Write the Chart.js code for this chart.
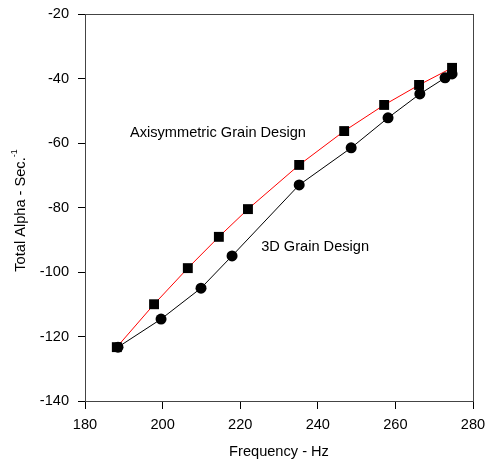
<!DOCTYPE html>
<html>
<head>
<meta charset="utf-8">
<script src="https://cdn.jsdelivr.net/npm/chart.js@4"></script>
<style>
  html, body { margin: 0; padding: 0; background: #fff; }
  #wrap { width: 489px; height: 461px; }
</style>
</head>
<body>
<div id="wrap"><canvas id="alphaChart" width="489" height="461"></canvas></div>
<script>
// Axisymmetric grain design (squares, red line)
var axiFreq  = [188.2, 197.8, 206.5, 214.5, 222.0, 235.2, 246.8, 257.1, 266.1, 274.6];
var axiAlpha = [-123.3, -110.0, -98.8, -89.1, -80.5, -66.8, -56.3, -48.2, -42.0, -36.7];

// 3D grain design (circles, black line)
var d3Freq  = [188.5, 199.6, 209.9, 217.9, 235.2, 248.6, 258.1, 266.3, 272.8, 274.6];
var d3Alpha = [-123.3, -114.6, -105.0, -95.0, -73.0, -61.5, -52.2, -44.8, -39.8, -38.6];

var xTicks = [180, 200, 220, 240, 260, 280];
var yTicks = [-140, -120, -100, -80, -60, -40, -20];

function toPoints(xs, ys) {
    return xs.map(function (x, i) { return { x: x, y: ys[i] }; });
}

var FONT = 'Liberation Sans, Arial, sans-serif';
var FS = 14.6;

// frame around plot + in-plot labels
var decorations = {
    id: 'decorations',
    afterDraw: function (chart) {
        var c = chart.ctx, a = chart.chartArea;
        var xs = chart.scales.x, ys = chart.scales.y;
        c.save();
        c.strokeStyle = '#444';
        c.lineWidth = 1;
        c.strokeRect(Math.round(a.left) + 0.5, Math.round(a.top) + 0.5,
                     Math.round(a.right - a.left), Math.round(a.bottom - a.top));
        c.fillStyle = '#000';
        c.font = FS + 'px ' + FONT;
        c.textBaseline = 'middle';
        c.textAlign = 'left';
        c.fillText('Axisymmetric Grain Design', xs.getPixelForValue(191.6), ys.getPixelForValue(-56.9));
        c.fillText('3D Grain Design', xs.getPixelForValue(225.4), ys.getPixelForValue(-92.2));

        // y axis title with superscript
        c.translate(21, (a.top + a.bottom) / 2 + 3);
        c.rotate(-Math.PI / 2);
        var main = 'Total Alpha - Sec.';
        c.font = FS + 'px ' + FONT;
        var w1 = c.measureText(main).width;
        c.font = '9px ' + FONT;
        var w2 = c.measureText('-1').width;
        var start = -(w1 + w2) / 2;
        c.font = FS + 'px ' + FONT;
        c.fillText(main, start, 0);
        c.font = '9px ' + FONT;
        c.fillText('-1', start + w1, -6);
        c.restore();
    }
};

var ctx = document.getElementById('alphaChart').getContext('2d');
var chart = new Chart(ctx, {
    type: 'scatter',
    data: {
        datasets: [{
            label: 'Axisymmetric Grain Design',
            data: toPoints(axiFreq, axiAlpha),
            showLine: true,
            borderColor: '#ff0000',
            borderWidth: 1,
            pointStyle: 'rect',
            pointRadius: 7,
            pointBackgroundColor: '#000',
            pointBorderColor: '#000',
            pointBorderWidth: 0,
            order: 2
        }, {
            label: '3D Grain Design',
            data: toPoints(d3Freq, d3Alpha),
            showLine: true,
            borderColor: '#000',
            borderWidth: 1,
            pointStyle: 'circle',
            pointRadius: 5.5,
            pointBackgroundColor: '#000',
            pointBorderColor: '#000',
            pointBorderWidth: 0,
            order: 1
        }]
    },
    options: {
        responsive: false,
        animation: false,
        layout: { padding: { top: 14, right: 16, left: 0, bottom: 0 } },
        plugins: {
            legend: { display: false },
            tooltip: { enabled: false }
        },
        scales: {
            x: {
                type: 'linear',
                min: 180,
                max: 280,
                afterBuildTicks: function (s) { s.ticks = xTicks.map(function (v) { return { value: v }; }); },
                afterFit: function (s) { s.height = 60; s.paddingLeft = 0; s.paddingRight = 0; },
                grid: { drawOnChartArea: false, drawTicks: true, tickLength: 8, color: '#000' },
                border: { display: false },
                ticks: { color: '#000', font: { family: FONT, size: FS }, padding: 7, maxRotation: 0 },
                title: { display: true, text: 'Frequency - Hz', color: '#000', font: { family: FONT, size: FS }, padding: { top: 0, bottom: 0 } }
            },
            y: {
                type: 'linear',
                min: -140,
                max: -20,
                afterBuildTicks: function (s) { s.ticks = yTicks.map(function (v) { return { value: v }; }); },
                afterFit: function (s) { s.width = 85; s.paddingTop = 0; s.paddingBottom = 0; },
                grid: { drawOnChartArea: false, drawTicks: true, tickLength: 7, color: '#000' },
                border: { display: false },
                ticks: { color: '#000', font: { family: FONT, size: FS }, padding: 9 }
            }
        }
    },
    plugins: [decorations]
});
</script>
</body>
</html>
